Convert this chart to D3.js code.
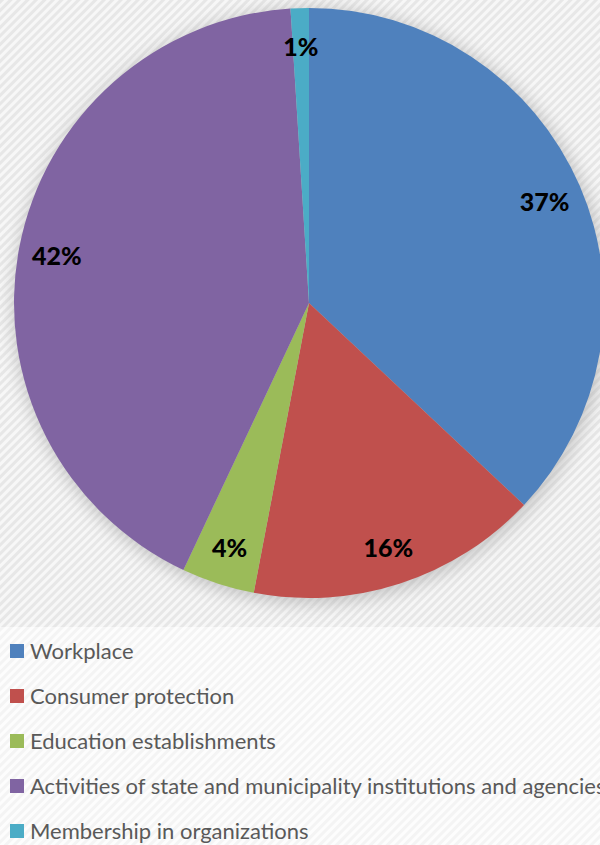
<!DOCTYPE html>
<html>
<head>
<meta charset="utf-8">
<script src="https://cdn.jsdelivr.net/npm/d3@7"></script>
<style>
  body { margin: 0; background: #fff; }
  svg { display: block; }
</style>
</head>
<body>
<div id="chart"></div>
<script>
var categories = ['Workplace', 'Consumer protection', 'Education establishments',
                  'Activities of state and municipality institutions and agencies',
                  'Membership in organizations'];
var values = [37, 16, 4, 42, 1];
var colors = ['#4F81BD', '#C0504D', '#9BBB59', '#8064A2', '#4BACC6'];

var width = 600, height = 845;
var cx = 309, cy = 303, radius = 295;

var svg = d3.select('#chart').append('svg')
    .attr('width', width)
    .attr('height', height);

var defs = svg.append('defs');

// diagonal stripe texture for the plot area
var pat = defs.append('pattern')
    .attr('id', 'stripes')
    .attr('width', 6).attr('height', 6)
    .attr('patternUnits', 'userSpaceOnUse')
    .attr('patternTransform', 'rotate(45)');
pat.append('rect').attr('width', 6).attr('height', 6).attr('fill', '#f7f7f7');
pat.append('rect').attr('width', 3).attr('height', 6).attr('fill', '#e7e7e7');

var pat2 = defs.append('pattern')
    .attr('id', 'stripes2')
    .attr('width', 6).attr('height', 6)
    .attr('patternUnits', 'userSpaceOnUse')
    .attr('patternTransform', 'rotate(45)');
pat2.append('rect').attr('width', 6).attr('height', 6).attr('fill', '#fdfdfd');
pat2.append('rect').attr('width', 3).attr('height', 6).attr('fill', '#f4f4f4');

var blur = defs.append('filter').attr('id', 'shadow')
    .attr('x', '-20%').attr('y', '-20%').attr('width', '140%').attr('height', '140%');
blur.append('feGaussianBlur').attr('stdDeviation', 9);

svg.append('rect').attr('width', width).attr('height', 627).attr('fill', 'url(#stripes)');
svg.append('rect').attr('y', 627).attr('width', width).attr('height', height - 627).attr('fill', 'url(#stripes2)');

var g = svg.append('g').attr('transform', 'translate(' + cx + ',' + cy + ')');

g.append('circle')
    .attr('cx', 2).attr('cy', 3)
    .attr('r', radius + 2)
    .attr('fill', '#9a9a9a')
    .attr('opacity', 0.55)
    .attr('filter', 'url(#shadow)');

var pie = d3.pie().sort(null).value(function(d) { return d; });
var arcs = pie(values);

var arc = d3.arc().innerRadius(0).outerRadius(radius);
var labelArc = d3.arc().innerRadius(radius * 0.87).outerRadius(radius * 0.87);

g.selectAll('path.slice')
    .data(arcs)
    .enter()
    .append('path')
    .attr('class', 'slice')
    .attr('d', arc)
    .attr('fill', function(d, i) { return colors[i]; });

g.selectAll('text.pct')
    .data(arcs)
    .enter()
    .append('text')
    .attr('class', 'pct')
    .attr('transform', function(d) { return 'translate(' + labelArc.centroid(d) + ')'; })
    .attr('text-anchor', 'middle')
    .attr('dy', '0.4em')
    .style('font-family', 'Lato, "Open Sans", sans-serif')
    .style('font-weight', '900')
    .style('font-size', '25px')
    .attr('fill', '#000')
    .text(function(d) { return d.data + '%'; });

var legend = svg.append('g').attr('transform', 'translate(10,644)');

var item = legend.selectAll('g')
    .data(categories)
    .enter()
    .append('g')
    .attr('transform', function(d, i) { return 'translate(0,' + (i * 45) + ')'; });

item.append('rect')
    .attr('width', 14).attr('height', 14)
    .attr('fill', function(d, i) { return colors[i]; });

item.append('text')
    .attr('x', 20)
    .attr('y', 7)
    .attr('dy', '0.36em')
    .style('font-family', 'Lato, "Open Sans", sans-serif')
    .style('font-size', '22px')
    .attr('fill', '#595959')
    .text(function(d) { return d; });
</script>
</body>
</html>
